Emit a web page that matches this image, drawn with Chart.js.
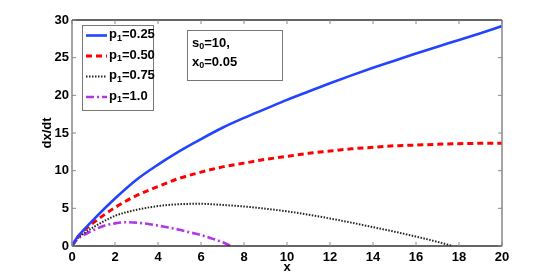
<!DOCTYPE html>
<html>
<head>
<meta charset="utf-8">
<script src="https://cdn.jsdelivr.net/npm/chart.js@4/dist/chart.umd.min.js"></script>
<style>
  body { margin: 0; background: #fff; }
  #wrap { width: 554px; height: 277px; }
</style>
</head>
<body>
<div id="wrap"><canvas id="plot" width="554" height="277"></canvas></div>
<script>
// values
var xBlue   = [0, 0.25, 0.5, 1, 2, 3, 4, 5, 6, 7, 8, 9, 10, 11, 12, 13, 14, 15, 16, 17, 18, 19, 20];
var yBlue   = [0, 1.2, 2.0, 3.5, 6.3, 8.8, 10.8, 12.6, 14.2, 15.7, 17.0, 18.2, 19.4, 20.5, 21.6, 22.65, 23.65, 24.6, 25.55, 26.45, 27.35, 28.25, 29.2];
var xRed    = [0, 0.25, 0.5, 1, 2, 3, 4, 5, 6, 7, 8, 9, 10, 11, 12, 13, 14, 15, 16, 17, 18, 19, 20];
var yRed    = [0, 1.1, 1.9, 3.1, 5.1, 6.7, 7.9, 9.0, 9.8, 10.5, 11.0, 11.5, 11.9, 12.3, 12.6, 12.9, 13.1, 13.3, 13.4, 13.5, 13.58, 13.63, 13.65];
var xBlack  = [0, 0.25, 0.5, 1, 2, 3, 4, 5, 6, 7, 8, 9, 10, 11, 12, 13, 14, 15, 16, 17, 17.7];
var yBlack  = [0, 1.0, 1.6, 2.5, 4.0, 4.8, 5.3, 5.55, 5.6, 5.45, 5.25, 4.95, 4.6, 4.15, 3.65, 3.1, 2.5, 1.9, 1.25, 0.55, 0];
var xPurple = [0, 0.25, 0.5, 1, 1.5, 2, 2.5, 3, 3.5, 4, 4.5, 5, 5.5, 6, 6.5, 7, 7.4];
var yPurple = [0, 0.9, 1.4, 2.1, 2.7, 3.0, 3.15, 3.1, 2.95, 2.7, 2.45, 2.15, 1.8, 1.45, 1.0, 0.5, 0];

var seriesNames = ['0.25', '0.50', '0.75', '1.0'];
var xTicks = [0, 2, 4, 6, 8, 10, 12, 14, 16, 18, 20];
var yTicks = [0, 5, 10, 15, 20, 25, 30];

var colors = ['#2244ff', '#ff0000', '#222222', '#b236e8'];
var dashes = [[], [6, 4], [1.5, 1.5], [8, 3, 2, 3]];
var widths = [2.6, 3, 2, 2.6];

function pts(xs, ys) {
  return xs.map(function (x, i) { return { x: x, y: ys[i] }; });
}

var allX = [xBlue, xRed, xBlack, xPurple];
var allY = [yBlue, yRed, yBlack, yPurple];
var datasets = [];
for (var i = 0; i < 4; i++) {
  datasets.push({
    label: 'p1=' + seriesNames[i],
    data: pts(allX[i], allY[i]),
    borderColor: colors[i],
    borderWidth: widths[i],
    borderDash: dashes[i],
    pointRadius: 0,
    fill: false,
    cubicInterpolationMode: 'monotone'
  });
}

var FONT = '"Liberation Sans", Arial, sans-serif';

// draws "p" with subscript then the rest
function subText(ctx, x, y, base, sub, rest, size) {
  ctx.font = 'bold ' + size + 'px ' + FONT;
  ctx.fillText(base, x, y);
  x += ctx.measureText(base).width;
  ctx.font = 'bold ' + Math.round(size * 0.7) + 'px ' + FONT;
  ctx.fillText(sub, x, y + 4);
  x += ctx.measureText(sub).width;
  ctx.font = 'bold ' + size + 'px ' + FONT;
  ctx.fillText(rest, x, y);
}

var boxPlugin = {
  id: 'boxPlugin',
  afterDraw: function (chart) {
    var ctx = chart.ctx;
    var a = chart.chartArea;
    var xs = chart.scales.x, ys = chart.scales.y;
    ctx.save();
    // frame
    ctx.lineWidth = 1.5;
    ctx.strokeStyle = '#888';
    ctx.beginPath();
    ctx.moveTo(a.left, a.top); ctx.lineTo(a.left, a.bottom);
    ctx.moveTo(a.right, a.top); ctx.lineTo(a.right, a.bottom);
    ctx.stroke();
    ctx.strokeStyle = '#333';
    ctx.beginPath();
    ctx.moveTo(a.left, a.top); ctx.lineTo(a.right, a.top);
    ctx.moveTo(a.left, a.bottom); ctx.lineTo(a.right, a.bottom);
    ctx.stroke();
    // inward ticks
    ctx.lineWidth = 1;
    ctx.strokeStyle = '#888';
    ctx.beginPath();
    xTicks.forEach(function (v) {
      var px = xs.getPixelForValue(v);
      ctx.moveTo(px, a.bottom); ctx.lineTo(px, a.bottom - 4);
      ctx.moveTo(px, a.top); ctx.lineTo(px, a.top + 4);
    });
    yTicks.forEach(function (v) {
      var py = ys.getPixelForValue(v);
      ctx.moveTo(a.left, py); ctx.lineTo(a.left + 4, py);
      ctx.moveTo(a.right, py); ctx.lineTo(a.right - 4, py);
    });
    ctx.stroke();

    // axis titles
    ctx.fillStyle = '#000';
    ctx.font = 'bold 13px ' + FONT;
    ctx.textAlign = 'center';
    ctx.textBaseline = 'middle';
    ctx.fillText('x', (a.left + a.right) / 2, 267);
    ctx.save();
    ctx.translate(47, (a.top + a.bottom) / 2);
    ctx.rotate(-Math.PI / 2);
    ctx.fillText('dx/dt', 0, 0);
    ctx.restore();

    // legend box
    ctx.fillStyle = '#fff';
    ctx.fillRect(82, 25, 71, 85);
    ctx.strokeStyle = '#777';
    ctx.lineWidth = 1;
    ctx.strokeRect(82.5, 25.5, 71, 85);
    for (var i = 0; i < 4; i++) {
      var yy = 35.5 + i * 20.5;
      ctx.beginPath();
      ctx.strokeStyle = colors[i];
      ctx.lineWidth = widths[i];
      ctx.setLineDash(dashes[i]);
      ctx.moveTo(86, yy); ctx.lineTo(107, yy);
      ctx.stroke();
      ctx.setLineDash([]);
      ctx.fillStyle = '#000';
      ctx.textBaseline = 'middle';
      ctx.textAlign = 'left';
      subText(ctx, 109, yy - 1, 'p', '1', '=' + seriesNames[i], 13);
    }

    // parameter box
    ctx.fillStyle = '#fff';
    ctx.fillRect(187, 30, 95, 50);
    ctx.strokeStyle = '#777';
    ctx.lineWidth = 1;
    ctx.strokeRect(187.5, 30.5, 95, 50);
    ctx.fillStyle = '#000';
    subText(ctx, 192, 43, 's', '0', '=10,', 13);
    subText(ctx, 192, 62, 'x', '0', '=0.05', 13);
    ctx.restore();
  }
};

new Chart(document.getElementById('plot'), {
  type: 'line',
  data: { datasets: datasets },
  plugins: [boxPlugin],
  options: {
    responsive: false,
    animation: false,
    layout: { padding: { left: 0, right: 52, top: 20, bottom: 0 } },
    plugins: { legend: { display: false }, tooltip: { enabled: false } },
    scales: {
      x: {
        type: 'linear',
        min: 0, max: 20,
        afterBuildTicks: function (s) { s.ticks = xTicks.map(function (v) { return { value: v }; }); },
        afterFit: function (s) { s.height = 31; },
        grid: { display: false, drawTicks: false },
        border: { display: false },
        ticks: { color: '#000', padding: 4, font: { family: FONT, size: 13, weight: 'bold' }, maxRotation: 0 }
      },
      y: {
        min: 0, max: 30,
        afterBuildTicks: function (s) { s.ticks = yTicks.map(function (v) { return { value: v }; }); },
        afterFit: function (s) { s.width = 72; },
        grid: { display: false, drawTicks: false },
        border: { display: false },
        ticks: { color: '#000', padding: 3, font: { family: FONT, size: 13, weight: 'bold' } }
      }
    }
  }
});
</script>
</body>
</html>
